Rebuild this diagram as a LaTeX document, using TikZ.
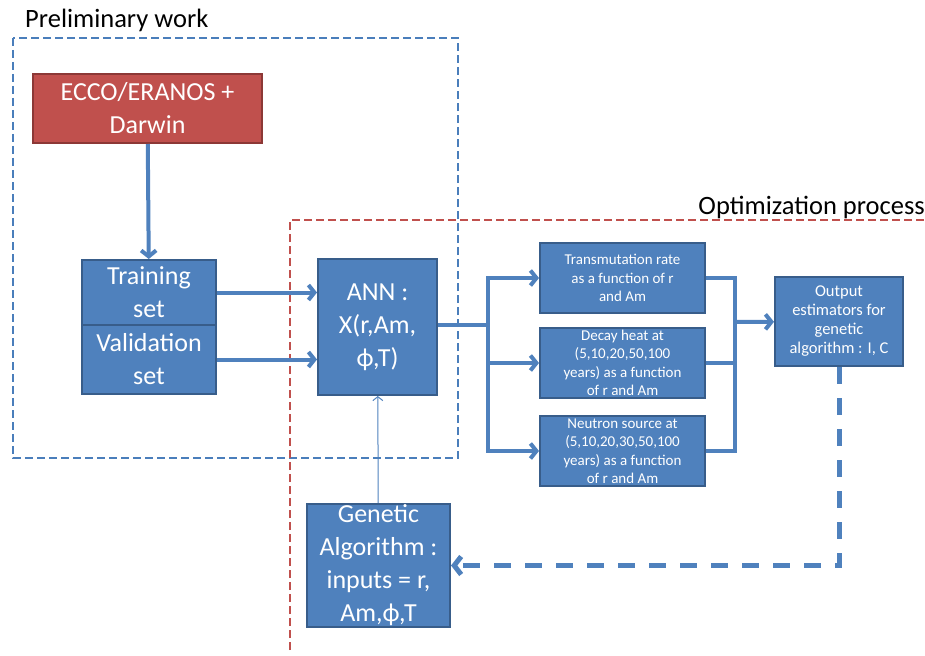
\documentclass[tikz,border=0pt]{standalone}
\usepackage{fontspec}
\setmainfont{Carlito}
\usetikzlibrary{arrows.meta,positioning}
\definecolor{boxblue}{RGB}{79,129,189}
\definecolor{boxblueline}{RGB}{56,93,138}
\definecolor{boxred}{RGB}{192,80,77}
\definecolor{boxredline}{RGB}{140,56,54}
\definecolor{zoneblue}{RGB}{74,126,187}
\definecolor{zonered}{RGB}{192,80,77}

\begin{document}
\begin{tikzpicture}[x=1pt,y=-1pt,>=Latex,
  bluebox/.style={draw=boxblueline,line width=2pt,fill=boxblue,text=white,align=center,inner sep=1pt},
  redbox/.style={draw=boxredline,line width=2pt,fill=boxred,text=white,align=center,inner sep=1pt},
  bigtext/.style={font=\fontsize{26}{33}\selectfont},
  smalltext/.style={font=\fontsize{15}{18.5}\selectfont},
  flow/.style={draw=boxblue,line width=4pt,-{Straight Barb[length=6pt,width=15pt]}},
  wire/.style={draw=boxblue,line width=4pt}]
  \useasboundingbox (0,0) rectangle (925,655);
  % zones
  \draw[zoneblue,line width=2.5pt,dash pattern=on 8pt off 4pt] (13,38) rectangle (458,458);
  \draw[zonered,line width=2.5pt,dash pattern=on 8pt off 4pt] (290,650) -- (290,220) -- (925,220);
  \node[anchor=base west,font=\fontsize{26.5}{30}\selectfont,inner sep=0pt] (prelim) at (25,28) {Preliminary work};
  \node[anchor=base east,font=\fontsize{26.5}{30}\selectfont,inner sep=0pt] (optim) at (925,214) {Optimization process};
  % boxes
  \node[redbox,bigtext,minimum width=229,minimum height=69] (ecco) at (147.5,108.5) {ECCO/ERANOS +\\Darwin};
  \node[bluebox,bigtext,minimum width=134,minimum height=65] (train) at (149,292.5) {Training\\set};
  \node[bluebox,bigtext,minimum width=134,minimum height=69] (valid) at (149,359.5) {Validation\\set};
  \node[bluebox,bigtext,minimum width=119,minimum height=136] (ann) at (377.5,327) {ANN :\\X(r,Am,\\ϕ,T)};
  \node[bluebox,smalltext,minimum width=165,minimum height=70] (trans) at (622.5,278) {Transmutation rate\\as a function of r\\and Am};
  \node[bluebox,smalltext,minimum width=165,minimum height=70] (decay) at (622.5,363) {Decay heat at\\(5,10,20,50,100\\years) as a function\\of r and Am};
  \node[bluebox,smalltext,minimum width=165,minimum height=70] (neutron) at (622.5,451) {Neutron source at\\(5,10,20,30,50,100\\years) as a function\\of r and Am};
  \node[bluebox,font=\fontsize{16.5}{19}\selectfont,minimum width=128,minimum height=89] (output) at (839,321.5) {Output\\estimators for\\genetic\\algorithm : I, C};
  \node[bluebox,bigtext,minimum width=143,minimum height=119] (genetic) at (378.5,565.5) {Genetic\\Algorithm :\\inputs = r,\\Am,ϕ,T};
  \coordinate (split) at (488,325);
  \coordinate (merge) at (735,322);
  % connectors
  \draw[flow] (ecco) -- (train);
  \draw[flow] (train) -- (train -| ann.west);
  \draw[flow] (valid) -- (valid -| ann.west);
  \draw[wire] (ann.east |- split) -- (split);
  \draw[flow] (split) |- (trans);
  \draw[flow] (split) |- (decay);
  \draw[flow] (split) |- (neutron);
  \draw[wire] (trans) -| (merge);
  \draw[wire] (neutron) -| (merge);
  \draw[wire] (decay) -- (decay -| merge);
  \draw[flow] (merge) -- (output);
  \draw[boxblue,line width=5pt,dash pattern=on 17pt off 14pt,-{Straight Barb[length=7pt,width=18pt]}] (output) |- (genetic);
  \draw[boxblue,line width=1pt,-{Straight Barb[length=4pt,width=10pt]}] (genetic) -- (ann);
\end{tikzpicture}
\end{document}
